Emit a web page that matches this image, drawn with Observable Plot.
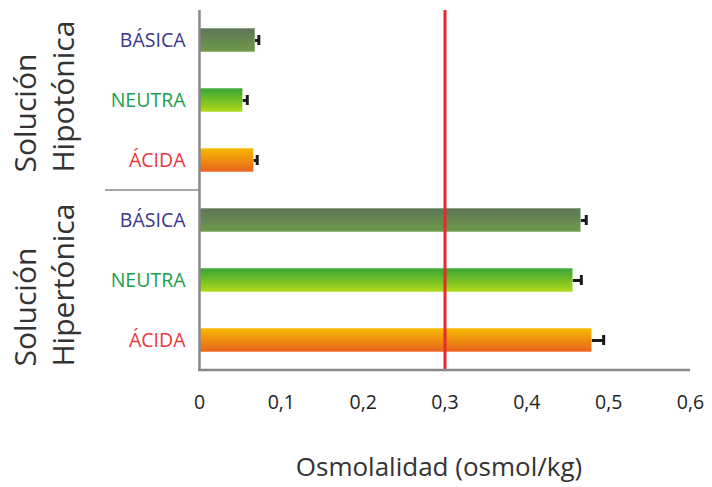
<!DOCTYPE html>
<html>
<head>
<meta charset="utf-8">
<script src="https://cdn.jsdelivr.net/npm/d3@7"></script>
<script src="https://cdn.jsdelivr.net/npm/@observablehq/plot@0.6"></script>
<style>
  html, body { margin: 0; padding: 0; background: #fff; }
  #chart { width: 712px; height: 487px; }
  svg { font-family: "Open Sans", sans-serif; }
</style>
</head>
<body>
<div id="chart"></div>
<script>
// ---- data ----
const groups = ["Hipotónica", "Hipotónica", "Hipotónica", "Hipertónica", "Hipertónica", "Hipertónica"];
const types = ["BÁSICA", "NEUTRA", "ÁCIDA", "BÁSICA", "NEUTRA", "ÁCIDA"];
const values = [0.0685, 0.0534, 0.0668, 0.4666, 0.4568, 0.480];
const errors = [0.004, 0.005, 0.0037, 0.006, 0.0098, 0.0139];
const xTicks = [0, 0.1, 0.2, 0.3, 0.4, 0.5, 0.6];
const reference = [0.3];
const groupLabels = ["Hipotónica", "Hipertónica"];

const typeColor = { "BÁSICA": "#3b368c", "NEUTRA": "#1a9f4d", "ÁCIDA": "#e8383d" };
const gradients = {
  "BÁSICA": ["#5c7659", "#6f9a47"],
  "NEUTRA": ["#35a535", "#b2da18"],
  "ÁCIDA": ["#f6bb02", "#e8621c"]
};
const gradId = { "BÁSICA": "gBas", "NEUTRA": "gNeu", "ÁCIDA": "gAci" };

const rows = groups.map((g, i) => ({
  key: g + "-" + types[i],
  group: g,
  type: types[i],
  value: values[i],
  err: errors[i]
}));
const keys = rows.map(d => d.key);

const fmt = d => d === 0 ? "0" : String(d).replace(".", ",");

// gradient definitions
const defsMark = () => {
  const defs = d3.create("svg:defs");
  for (const t of Object.keys(gradients)) {
    const lg = defs.append("linearGradient")
      .attr("id", gradId[t]).attr("x1", 0).attr("y1", 0).attr("x2", 0).attr("y2", 1);
    lg.append("stop").attr("offset", "0%").attr("stop-color", gradients[t][0]);
    lg.append("stop").attr("offset", "100%").attr("stop-color", gradients[t][1]);
  }
  return defs.node();
};

// separator between groups and bottom axis line
const linesMark = (index, scales, values, dims) => {
  const g = d3.create("svg:g");
  const y = scales.y;
  const step = y.step();
  const lastHypo = keys[2];
  const yb = y(lastHypo) + y.bandwidth() + (step - y.bandwidth()) / 2;
  g.append("line")
    .attr("x1", 105).attr("x2", dims.marginLeft)
    .attr("y1", yb).attr("y2", yb)
    .attr("stroke", "#8a8a8a").attr("stroke-width", 1.5);
  const yBottom = dims.height - dims.marginBottom;
  g.append("line")
    .attr("x1", scales.x(0) - 1).attr("x2", scales.x(0.6))
    .attr("y1", yBottom).attr("y2", yBottom)
    .attr("stroke", "#888").attr("stroke-width", 2.5);
  return g.node();
};

// rotated group labels ("Solución" / group name)
const groupOffset = { "Hipotónica": 0.5, "Hipertónica": 14.5 };
const groupLabelMark = (index, scales) => {
  const g = d3.create("svg:g")
    .attr("font-size", 30).attr("fill", "#333")
    .attr("font-family", "Open Sans, sans-serif");
  const y = scales.y;
  for (const grp of groupLabels) {
    const last = rows.filter(r => r.group === grp).slice(-1)[0].key;
    const yStart = y(last) + y.bandwidth() + groupOffset[grp];
    const lines = ["Solución", grp];
    const xs = [24, 62];
    lines.forEach((txt, i) => {
      g.append("text")
        .attr("transform", `translate(${xs[i]},${yStart}) rotate(-90)`)
        .attr("text-anchor", "start")
        .attr("dominant-baseline", "central")
        .text(txt);
    });
  }
  return g.node();
};

const chart = Plot.plot({
  width: 712,
  height: 487,
  marginTop: 10,
  marginBottom: 117,
  marginLeft: 199,
  marginRight: 22,
  style: { fontFamily: "Open Sans, sans-serif", background: "#fff" },
  x: { domain: [0, 0.6], axis: null },
  y: { domain: keys, paddingInner: 0.6, paddingOuter: 0.3, axis: null },
  marks: [
    defsMark,
    Plot.barX(rows, {
      x: "value", y: "key",
      fill: d => `url(#${gradId[d.type]})`,
      stroke: "#ffffff", strokeOpacity: 0.6, strokeWidth: 1
    }),
    Plot.ruleY(rows, {
      y: "key", x1: "value", x2: d => d.value + d.err,
      stroke: "#1a1a1a", strokeWidth: 3
    }),
    Plot.tickX(rows, {
      x: d => d.value + d.err, y: "key",
      stroke: "#1a1a1a", strokeWidth: 3,
      insetTop: 7, insetBottom: 7
    }),
    Plot.ruleX(reference, { x: d => d, stroke: "#e52b2b", strokeWidth: 3 }),
    Plot.ruleX([0], { stroke: "#888", strokeWidth: 2.5 }),
    linesMark,
    Plot.text(rows, {
      x: 0, y: "key", text: "type", dx: -14, textAnchor: "end",
      fill: d => typeColor[d.type], fontSize: 19.5
    }),
    groupLabelMark,
    Plot.text(xTicks, {
      x: d => d, text: fmt, frameAnchor: "bottom", dy: 38,
      fontSize: 19.5, fill: "#222"
    }),
    Plot.text(["Osmolalidad (osmol/kg)"], {
      frameAnchor: "bottom", text: d => d, dy: 105, dx: -6,
      fontSize: 26, fill: "#333"
    })
  ]
});

document.getElementById("chart").appendChild(chart);
</script>
</body>
</html>
